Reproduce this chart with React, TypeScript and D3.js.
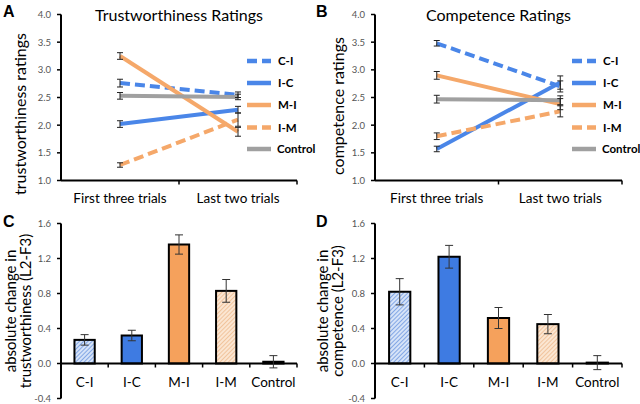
import React from "react";
import * as d3 from "d3";

const phases = ["First three trials", "Last two trials"];
const groups = ["C-I", "I-C", "M-I", "I-M", "Control"];

const trustMeans = [
  [2.76, 2.55],
  [2.02, 2.28],
  [3.25, 1.88],
  [1.28, 2.1],
  [2.53, 2.51],
];
const trustErr = [
  [0.07, 0.05],
  [0.06, 0.06],
  [0.06, 0.08],
  [0.04, 0.12],
  [0.06, 0.05],
];
const compMeans = [
  [3.48, 2.7],
  [1.57, 2.77],
  [2.9, 2.38],
  [1.8, 2.25],
  [2.47, 2.45],
];
const compErr = [
  [0.05, 0.1],
  [0.05, 0.12],
  [0.07, 0.1],
  [0.06, 0.1],
  [0.07, 0.08],
];
const trustChange = [0.27, 0.32, 1.36, 0.83, 0.02];
const trustChangeErr = [0.06, 0.06, 0.11, 0.13, 0.07];
const compChange = [0.82, 1.22, 0.52, 0.45, 0.01];
const compChangeErr = [0.15, 0.13, 0.12, 0.11, 0.08];

const lineTicks = [1.0, 1.5, 2.0, 2.5, 3.0, 3.5, 4.0];
const barTicks = [-0.4, 0.0, 0.4, 0.8, 1.2, 1.6];

const BLUE = "#4A86E8";
const ORANGE = "#F5A86A";
const GRAY = "#A0A0A0";
const lineStyles = [
  { color: BLUE, dash: "10,5" },
  { color: BLUE, dash: null },
  { color: ORANGE, dash: null },
  { color: ORANGE, dash: "10,5" },
  { color: GRAY, dash: null },
];
const barFills = ["url(#hatchBlue)", "#3E7BE2", "#F5A15C", "url(#hatchOrange)", "#000"];

const FONT = "Lato, 'Open Sans', sans-serif";
const TICKCOL = "#555";

function LinePanel(props: any) {
  const { x0, x1, title, ylabel, ylabelX, ylabelY, means, errs, letter, letterX } = props;
  const y = d3.scaleLinear().domain([1, 4]).range([180.5, 14.5]);
  const x = d3.scaleBand().domain(phases).range([x0, x1]);
  const cx = (p: string) => (x(p) as number) + x.bandwidth() / 2;
  const line = d3
    .line<number>()
    .x((_, i) => cx(phases[i]))
    .y((d) => y(d));
  const legX = x1 - 50;
  const legY = [61, 83, 105, 127.5, 149];
  return (
    <g>
      <text x={letterX} y={17} fontFamily="Liberation Sans, Arial" fontWeight="bold" fontSize={16}>
        {letter}
      </text>
      <text x={(x0 + x1) / 2} y={21} textAnchor="middle" fontFamily={FONT} fontSize={16}>
        {title}
      </text>
      <text
        transform={`translate(${ylabelX},${ylabelY}) rotate(-90)`}
        textAnchor="middle"
        fontFamily={FONT}
        fontSize={16}
      >
        {ylabel}
      </text>
      {/* y axis */}
      <line x1={x0} x2={x0} y1={y(4)} y2={y(1)} stroke="#000" strokeWidth={2} />
      {lineTicks.map((t) => (
        <g key={t}>
          <line x1={x0 - 4} x2={x0} y1={y(t)} y2={y(t)} stroke="#000" strokeWidth={1.5} />
          <text x={x0 - 10} y={y(t) + 3.5} textAnchor="end" fontFamily={FONT} fontSize={9.5} fill={TICKCOL}>
            {t.toFixed(1)}
          </text>
        </g>
      ))}
      {/* x axis */}
      <line x1={x0} x2={x1} y1={y(1)} y2={y(1)} stroke="#000" strokeWidth={2} />
      {[x0 + x.bandwidth(), x1].map((b, i) => (
        <line key={i} x1={b} x2={b} y1={y(1)} y2={y(1) + 4} stroke="#000" strokeWidth={1.5} />
      ))}
      {phases.map((p) => (
        <text key={p} x={cx(p)} y={203} textAnchor="middle" fontFamily={FONT} fontSize={13.5}>
          {p}
        </text>
      ))}
      {/* lines */}
      {means.map((m: number[], gi: number) => (
        <path
          key={gi}
          d={line(m) as string}
          fill="none"
          stroke={lineStyles[gi].color}
          strokeWidth={4}
          strokeDasharray={lineStyles[gi].dash || undefined}
        />
      ))}
      {/* error bars */}
      {means.map((m: number[], gi: number) =>
        m.map((v, pi) => {
          const px = cx(phases[pi]);
          const e = errs[gi][pi];
          return (
            <g key={gi + "-" + pi} stroke="#222" strokeWidth={1}>
              <line x1={px} x2={px} y1={y(v + e)} y2={y(v - e)} />
              <line x1={px - 3} x2={px + 3} y1={y(v + e)} y2={y(v + e)} />
              <line x1={px - 3} x2={px + 3} y1={y(v - e)} y2={y(v - e)} />
            </g>
          );
        })
      )}
      {/* legend */}
      {groups.map((g, gi) => (
        <g key={g}>
          <line
            x1={legX}
            x2={legX + 24}
            y1={legY[gi]}
            y2={legY[gi]}
            stroke={lineStyles[gi].color}
            strokeWidth={4.5}
            strokeDasharray={lineStyles[gi].dash || undefined}
          />
          <text
            x={legX + (gi === 4 ? 30 : 31)}
            y={legY[gi] + 4}
            fontFamily={FONT}
            fontWeight="bold"
            fontSize={11.5}
          >
            {g}
          </text>
        </g>
      ))}
    </g>
  );
}

function BarPanel(props: any) {
  const { x0, x1, labels, lx, values, errs, letter, letterX } = props;
  const y = d3.scaleLinear().domain([-0.4, 1.6]).range([398.5, 223.5]);
  const x = d3.scaleBand().domain(groups).range([x0, x1]).paddingInner(0.57).paddingOuter(0.285);
  const band = (x1 - x0) / groups.length;
  return (
    <g>
      <text x={letterX} y={226.5} fontFamily="Liberation Sans, Arial" fontWeight="bold" fontSize={16}>
        {letter}
      </text>
      {labels.map((l: string, i: number) => (
        <text
          key={i}
          transform={`translate(${lx[i]},311) rotate(-90)`}
          textAnchor="middle"
          fontFamily={FONT}
          fontSize={15}
        >
          {l}
        </text>
      ))}
      <line x1={x0} x2={x0} y1={y(1.6)} y2={y(-0.4)} stroke="#000" strokeWidth={2} />
      {barTicks.map((t) => (
        <g key={t}>
          <line x1={x0 - 4} x2={x0} y1={y(t)} y2={y(t)} stroke="#000" strokeWidth={1.5} />
          <text x={x0 - 10} y={y(t) + 3.5} textAnchor="end" fontFamily={FONT} fontSize={9.5} fill={TICKCOL}>
            {t.toFixed(1)}
          </text>
        </g>
      ))}
      {values.map((v: number, i: number) => (
        <rect
          key={i}
          x={x(groups[i])}
          width={x.bandwidth()}
          y={y(v)}
          height={y(0) - y(v)}
          fill={barFills[i]}
          stroke="#000"
          strokeWidth={2}
        />
      ))}
      <line x1={x0} x2={x1} y1={y(0)} y2={y(0)} stroke="#000" strokeWidth={2} />
      {groups.map((g, i) => (
        <line
          key={i}
          x1={x0 + band * (i + 1)}
          x2={x0 + band * (i + 1)}
          y1={y(0)}
          y2={y(0) + 4}
          stroke="#000"
          strokeWidth={1.5}
        />
      ))}
      {values.map((v: number, i: number) => {
        const px = (x(groups[i]) as number) + x.bandwidth() / 2;
        const e = errs[i];
        return (
          <g key={"e" + i} stroke="#333" strokeWidth={1}>
            <line x1={px} x2={px} y1={y(v + e)} y2={y(v - e)} />
            <line x1={px - 4} x2={px + 4} y1={y(v + e)} y2={y(v + e)} />
            <line x1={px - 4} x2={px + 4} y1={y(v - e)} y2={y(v - e)} />
          </g>
        );
      })}
      {groups.map((g) => (
        <text
          key={g}
          x={(x(g) as number) + x.bandwidth() / 2}
          y={386.5}
          textAnchor="middle"
          fontFamily={FONT}
          fontSize={13.5}
        >
          {g}
        </text>
      ))}
    </g>
  );
}

export default function App() {
  return (
    <div style={{ position: "absolute", left: 0, top: 0 }}>
      <svg width={640} height={404} style={{ display: "block", background: "#fff" }}>
        <defs>
          <pattern id="hatchBlue" width={3} height={3} patternUnits="userSpaceOnUse" patternTransform="rotate(45)">
            <rect width={3} height={3} fill="#D6E3F8" />
            <line x1={0} y1={0} x2={0} y2={3} stroke="#4A7FD8" strokeWidth={1.2} />
          </pattern>
          <pattern id="hatchOrange" width={3} height={3} patternUnits="userSpaceOnUse" patternTransform="rotate(45)">
            <rect width={3} height={3} fill="#FBE6D2" />
            <line x1={0} y1={0} x2={0} y2={3} stroke="#EBAE7A" strokeWidth={1.2} />
          </pattern>
        </defs>
        <LinePanel
          x0={61}
          x1={297}
          title="Trustworthiness Ratings"
          ylabel="trustworthiness ratings"
          ylabelX={26}
          ylabelY={114}
          means={trustMeans}
          errs={trustErr}
          letter="A"
          letterX={3}
        />
        <LinePanel
          x0={375}
          x1={622}
          title="Competence Ratings"
          ylabel="competence ratings"
          ylabelX={344}
          ylabelY={106}
          means={compMeans}
          errs={compErr}
          letter="B"
          letterX={316}
        />
        <BarPanel
          x0={61}
          x1={297}
          labels={["absolute change in", "trustworthiness (L2-F3)"]}
          lx={[16, 31]}
          values={trustChange}
          errs={trustChangeErr}
          letter="C"
          letterX={3}
        />
        <BarPanel
          x0={375}
          x1={622}
          labels={["absolute change in", "competence (L2-F3)"]}
          lx={[328, 343]}
          values={compChange}
          errs={compChangeErr}
          letter="D"
          letterX={316}
        />
      </svg>
    </div>
  );
}
